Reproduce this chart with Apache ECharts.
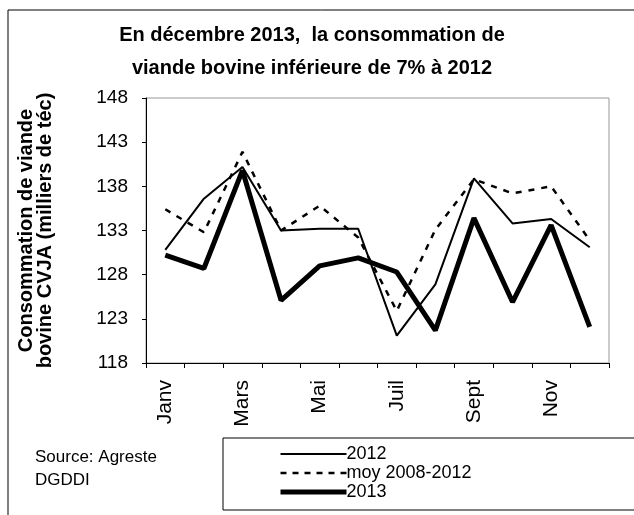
<!DOCTYPE html>
<html>
<head>
<meta charset="utf-8">
<script src="https://cdn.jsdelivr.net/npm/echarts@6/dist/echarts.min.js"></script>
<style>
    html, body { margin: 0; padding: 0; background: #fff; }
    #chart { width: 634px; height: 515px; }
</style>
</head>
<body>
<div id="chart"></div>
<script>
    const months = ['Janv', 'Févr', 'Mars', 'Avr', 'Mai', 'Juin', 'Juil', 'Août', 'Sept', 'Oct', 'Nov', 'Déc'];
    const serie2012 = [130.8, 136.6, 140.2, 133.0, 133.2, 133.2, 121.1, 126.9, 138.9, 133.8, 134.3, 131.1];
    const serieMoy = [135.4, 132.8, 141.9, 133.0, 135.8, 132.2, 123.9, 133.1, 138.8, 137.2, 138.0, 131.9];
    const serie2013 = [130.2, 128.7, 139.8, 125.1, 129.0, 129.9, 128.3, 121.7, 134.4, 124.9, 133.6, 122.1];
    const yTicks = [118, 123, 128, 133, 138, 143, 148];

    const font = 'Liberation Sans, Arial, sans-serif';
    const myChart = echarts.init(document.getElementById('chart'));
    let option = {
        animation: false,
        backgroundColor: '#fff',
        textStyle: { fontFamily: font },
        title: {
            text: 'En décembre 2013,  la consommation de\nviande bovine inférieure de 7% à 2012',
            left: 307,
            textAlign: 'center',
            top: 14,
            textStyle: { fontSize: 20, fontWeight: 'bold', color: '#000', lineHeight: 33, fontFamily: font }
        },
        graphic: [
            { type: 'rect', shape: { x: 8, y: 10, width: 700, height: 600 }, style: { fill: 'none', stroke: '#000', lineWidth: 1 }, z: -1 },
            { type: 'rect', shape: { x: 223, y: 438, width: 500, height: 72 }, style: { fill: 'none', stroke: '#000', lineWidth: 1 } },
            { type: 'text', left: 35, top: 446, style: { text: 'Source: Agreste\nDGDDI', fontSize: 17, lineHeight: 23, fill: '#000', fontFamily: font } }
        ],
        legend: {
            orient: 'vertical',
            left: 278,
            top: 445,
            itemWidth: 66,
            itemHeight: 14,
            itemGap: 1,
            padding: 0,
            itemStyle: { opacity: 0 },
            textStyle: { fontSize: 18, lineHeight: 18, color: '#000', padding: [0, 0, 0, -5], fontFamily: font },
            data: [
                { name: '2012', lineStyle: { width: 2, color: '#000' } },
                { name: 'moy 2008-2012', lineStyle: { width: 2.5, color: '#000', type: [6, 6] } },
                { name: '2013', lineStyle: { width: 5, color: '#000' } }
            ]
        },
        grid: { left: 146, top: 98, right: 25, bottom: 152, show: true, borderColor: '#999', borderWidth: 1 },
        xAxis: {
            type: 'category',
            data: months,
            boundaryGap: true,
            axisLine: { lineStyle: { color: '#000', width: 1 } },
            axisTick: { show: true, interval: 0, length: 5, lineStyle: { color: '#000' } },
            axisLabel: { interval: 1, rotate: 90, fontSize: 21, color: '#000', margin: 17, fontFamily: font }
        },
        yAxis: {
            type: 'value',
            min: yTicks[0],
            max: yTicks[yTicks.length - 1],
            interval: 5,
            name: 'Consommation de viande\nbovine CVJA (milliers de téc)',
            nameLocation: 'middle',
            nameGap: 91,
            nameRotate: 90,
            nameTextStyle: { fontSize: 20, fontWeight: 'bold', color: '#000', lineHeight: 19, fontFamily: font },
            splitLine: { show: false },
            axisLine: { show: true, lineStyle: { color: '#000', width: 1 } },
            axisTick: { show: true, length: 4, lineStyle: { color: '#000' } },
            axisLabel: { fontSize: 19, color: '#000', margin: 18, fontFamily: font }
        },
        series: [
            {
                name: '2012',
                type: 'line',
                data: serie2012,
                symbol: 'none',
                color: '#000',
                lineStyle: { color: '#000', width: 2 }
            },
            {
                name: 'moy 2008-2012',
                type: 'line',
                data: serieMoy,
                symbol: 'none',
                color: '#000',
                lineStyle: { color: '#000', width: 2.5, type: [6, 7] }
            },
            {
                name: '2013',
                type: 'line',
                data: serie2013,
                symbol: 'none',
                color: '#000',
                lineStyle: { color: '#000', width: 5 }
            }
        ]
    };
    myChart.setOption(option);
</script>
</body>
</html>
